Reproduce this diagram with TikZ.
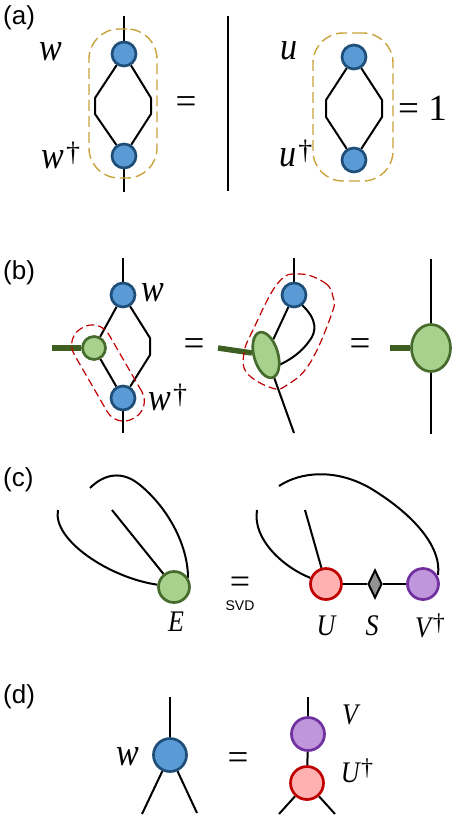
\documentclass[tikz,border=0pt]{standalone}
\usepackage{fontspec}
\setmainfont{Liberation Sans}
\newfontfamily\serifcm{Liberation Serif}
\usetikzlibrary{shapes.geometric,backgrounds}
\definecolor{bfill}{HTML}{5B9BD5}
\definecolor{bline}{HTML}{1F4E79}
\definecolor{gfill}{HTML}{A9D18E}
\definecolor{gline}{HTML}{466B2C}
\definecolor{rfill}{HTML}{FFB0B0}
\definecolor{rline}{HTML}{C00000}
\definecolor{pfill}{HTML}{BF96DC}
\definecolor{pline}{HTML}{7030A0}
\definecolor{gold}{HTML}{C9A23A}
\definecolor{dgreen}{HTML}{3F5F22}
\newcommand{\mylab}[2][34]{\scalebox{1}[1.15]{\fontsize{#1}{#1}\selectfont\serifcm\itshape #2}}
\newcommand{\mydag}[1][28]{\raisebox{7pt}{\fontsize{#1}{#1}\selectfont\serifcm\upshape\char"2020}}
\tikzset{
 ball/.style={circle,draw,line width=2.7pt,inner sep=0pt,minimum size=#1},
 blue/.style={ball=#1,fill=bfill,draw=bline},
 green/.style={ball=#1,fill=gfill,draw=gline},
 redb/.style={ball=#1,fill=rfill,draw=rline},
 purp/.style={ball=#1,fill=pfill,draw=pline},
 wire/.style={draw=black,line width=2pt,line join=round},
 fat/.style={draw=dgreen,line width=5.5pt},
 golddash/.style={draw=gold,line width=1.4pt,dash pattern=on 11pt off 5pt},
 reddash/.style={draw=rline,line width=1.2pt,dash pattern=on 8pt off 4pt},
 panel/.style={font=\fontsize{26}{26}\selectfont,anchor=west,inner sep=0pt},
 eqn/.style={font=\fontsize{37}{37}\selectfont\serifcm,inner sep=0pt},
 lab/.style={inner sep=0pt},
}
\begin{document}
\begin{tikzpicture}[x=1pt,y=-1pt]
\useasboundingbox (0,0) rectangle (452,816);
% panel labels
\node[panel] (pa) at (3,18) {(a)};
\node[panel] (pb) at (3,273) {(b)};
\node[panel] (pc) at (3,480) {(c)};
\node[panel] (pd) at (3,697) {(d)};
% (a)
\node[blue=24pt] (aw) at (124,54) {};
\node[blue=24pt] (awd) at (124,156) {};
\coordinate (at) at (124,16); \coordinate (ab) at (124,192);
\coordinate (al1) at (95,98); \coordinate (al2) at (95,114);
\coordinate (ar1) at (151,98); \coordinate (ar2) at (151,114);
\node[golddash,rounded corners=30pt,minimum width=68pt,minimum height=149pt,inner sep=0pt] (agold) at (123,103.5) {};
\node[lab] (alw) at (51,52) {\mylab{w}};
\node[lab] (alwd) at (61,155) {\mylab{w}\,\mydag};
\node[eqn] (aeq) at (186,105) {=};
\coordinate (vt) at (228,16); \coordinate (vb) at (228,191);
\node[blue=24pt] (au) at (354,57) {};
\node[blue=24pt] (aud) at (354,160) {};
\coordinate (bl1) at (326,100); \coordinate (bl2) at (326,117);
\coordinate (br1) at (382,100); \coordinate (br2) at (382,117);
\node[golddash,rounded corners=30pt,minimum width=80pt,minimum height=148pt,inner sep=0pt] (bgold) at (353,107) {};
\node[lab] (alu) at (289,51) {\mylab{u}};
\node[lab] (alud) at (296,154) {\mylab{u}\,\mydag};
\node[eqn,anchor=west] (aeq1) at (398,108) {= 1};
% (b)
\node[blue=24pt] (cw) at (123,295) {};
\node[blue=24pt] (cwd) at (123,398) {};
\node[green=23pt] (cg) at (94,348) {};
\coordinate (ct) at (123,258); \coordinate (cb) at (123,433);
\coordinate (cf) at (52,348);
\coordinate (cr1) at (150,338); \coordinate (cr2) at (150,355);
\node[reddash,rounded corners=19pt,rotate=-60,minimum width=104pt,minimum height=40pt,inner sep=0pt] (cred) at (108,373) {};
\node[lab] (clw) at (153,293) {\mylab{w}};
\node[lab] (clwd) at (168,397) {\mylab{w}\,\mydag};
\node[eqn] (ceq) at (194,347) {=};
\node[blue=24pt] (dw) at (294,295) {};
\node[ellipse,draw=gline,fill=gfill,line width=2.7pt,rotate=16,minimum width=24pt,minimum height=47pt,inner sep=0pt] (de) at (266,355) {};
\coordinate (dt) at (294,258);
\coordinate (db) at (294,433);
\coordinate (df) at (218,348);
\coordinate (dc1) at (302,305);
\coordinate (dc2) at (279,365);
\node[eqn] (deq) at (360,347) {=};
\node[ellipse,draw=gline,fill=gfill,line width=2.7pt,minimum width=39pt,minimum height=47pt,inner sep=0pt] (fe) at (431,348) {};
\coordinate (ft) at (431,259); \coordinate (fb) at (431,434); \coordinate (ff) at (390,348);
% (c)
\node[green=31pt] (eg) at (174,587) {};
\coordinate (e1) at (90,488); \coordinate (e2) at (112,510); \coordinate (e3) at (58,510);
\node[lab] (el) at (176,622) {\mylab[26]{E}};
\node[inner sep=0pt] (esvd1) at (240,585) {\fontsize{36}{36}\selectfont\serifcm =};
\node[inner sep=0pt] (esvd2) at (240,606) {\fontsize{14}{14}\selectfont SVD};
\node[redb=31pt] (gu) at (326,584) {};
\node[diamond,draw=black,fill=gray!85,line width=2pt,minimum width=14pt,minimum height=28pt,inner sep=0pt,aspect=0.5] (gs) at (375,584) {};
\node[purp=31pt] (gv) at (423,584) {};
\coordinate (g1) at (279,486); \coordinate (g2) at (305,510); \coordinate (g3) at (257,510);
\node[lab] (glu) at (326,626) {\mylab[26]{U}};
\node[lab] (gls) at (372,626) {\mylab[26]{S}};
\node[lab] (glv) at (430,626) {\mylab[26]{V}\,\mydag[24]};
% (d)
\node[blue=33pt] (hw) at (170,755) {};
\coordinate (ht) at (170,697); \coordinate (hl) at (142,814); \coordinate (hr) at (197,813);
\node[lab] (hlw) at (128,757) {\mylab{w}};
\node[eqn] (heq) at (238,761) {=};
\node[purp=33pt] (iv) at (308,734) {};
\node[redb=33pt] (iu) at (307,783) {};
\coordinate (it) at (308,697); \coordinate (il) at (279,814); \coordinate (ir) at (335,814);
\node[lab] (ilv) at (350,715) {\mylab[26]{V}};
\node[lab] (ilu) at (357,771) {\mylab[26]{U}\,\mydag[24]};
\begin{scope}[on background layer]
 \draw[wire] (at) -- (aw);
 \draw[wire] (aw) -- (al1) -- (al2) -- (awd);
 \draw[wire] (aw) -- (ar1) -- (ar2) -- (awd);
 \draw[wire] (awd) -- (ab);
 \draw[wire] (vt) -- (vb);
 \draw[wire] (au) -- (bl1) -- (bl2) -- (aud);
 \draw[wire] (au) -- (br1) -- (br2) -- (aud);
 \draw[wire] (ct) -- (cw);
 \draw[wire] (cw) -- (cg);
 \draw[wire] (cg) -- (cwd);
 \draw[wire] (cw) -- (cr1) -- (cr2) -- (cwd);
 \draw[wire] (cwd) -- (cb);
 \draw[fat] (cf) -- (cg);
 \draw[wire] (dt) -- (dw);
 \draw[wire] (dw) -- (de);
 \draw[wire] (dc1) .. controls (318,320) and (316,332) .. (310,340) .. controls (302,352) and (290,360) .. (dc2);
 \draw[wire] (de) -- (db);
 \draw[fat] (df) -- (de);
 \draw[wire] (ft) -- (fe);
 \draw[wire] (fe) -- (fb);
 \draw[fat] (ff) -- (fe);
 \draw[wire] (e1) .. controls (104,474) and (122,470) .. (140,485) .. controls (168,508) and (188,545) .. (188,578);
 \draw[wire] (e2) -- (eg);
 \draw[wire] (e3) .. controls (52,540) and (110,578) .. (eg);
 \draw[wire] (g1) .. controls (300,472) and (335,468) .. (370,488) .. controls (410,512) and (442,545) .. (438,575);
 \draw[wire] (g2) -- (gu);
 \draw[wire] (g3) .. controls (252,540) and (285,568) .. (gu);
 \draw[wire] (gu) -- (gs);
 \draw[wire] (gs) -- (gv);
 \draw[wire] (ht) -- (hw);
 \draw[wire] (hw) -- (hl);
 \draw[wire] (hw) -- (hr);
 \draw[wire] (it) -- (iv);
 \draw[wire] (iv) -- (iu);
 \draw[wire] (iu) -- (il);
 \draw[wire] (iu) -- (ir);
\end{scope}
\draw[reddash] plot[smooth cycle,tension=0.7] coordinates {(300,274) (325,283) (333,297) (332,313) (310,363) (287,385) (272,388) (247,373) (244,353) (253,330) (278,283)};
\end{tikzpicture}
\end{document}
